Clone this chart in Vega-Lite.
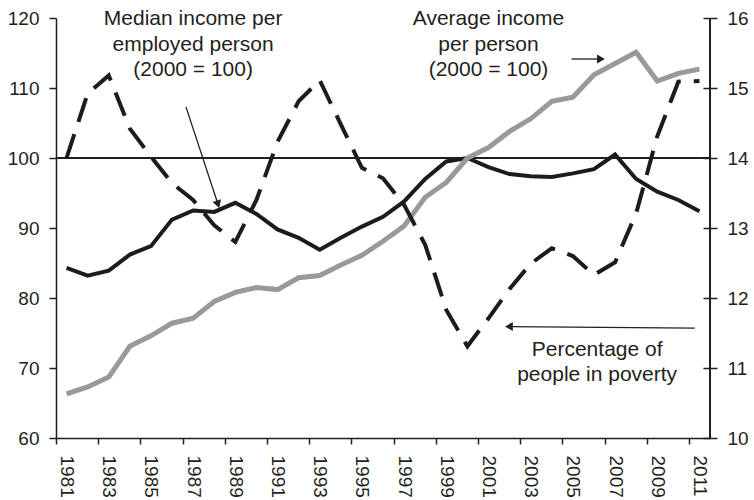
{
  "$schema": "https://vega.github.io/schema/vega-lite/v6.json",
  "width": 654,
  "height": 420,
  "autosize": {"type": "none"},
  "padding": {"left": 56, "top": 18, "right": 44, "bottom": 62},
  "background": "white",
  "config": {
    "view": {"stroke": null},
    "font": "Liberation Sans",
    "axis": {
      "labelFont": "Liberation Sans",
      "labelFontSize": 19,
      "labelColor": "#231f20",
      "domainColor": "#231f20",
      "tickColor": "#231f20",
      "domainWidth": 1.5,
      "tickWidth": 1.5,
      "grid": false
    }
  },
  "datasets": {
    "series": [
      {"year": 1981, "median": 84.3, "average": 66.3, "poverty": 14.0},
      {"year": 1982, "median": 83.2, "average": 67.3, "poverty": 14.92},
      {"year": 1983, "median": 83.9, "average": 68.7, "poverty": 15.18},
      {"year": 1984, "median": 86.2, "average": 73.1, "poverty": 14.42},
      {"year": 1985, "median": 87.4, "average": 74.6, "poverty": 14.02},
      {"year": 1986, "median": 91.2, "average": 76.4, "poverty": 13.64},
      {"year": 1987, "median": 92.5, "average": 77.1, "poverty": 13.4},
      {"year": 1988, "median": 92.3, "average": 79.5, "poverty": 13.04},
      {"year": 1989, "median": 93.6, "average": 80.8, "poverty": 12.8},
      {"year": 1990, "median": 92.0, "average": 81.5, "poverty": 13.4},
      {"year": 1991, "median": 89.8, "average": 81.2, "poverty": 14.23},
      {"year": 1992, "median": 88.6, "average": 82.9, "poverty": 14.81},
      {"year": 1993, "median": 86.9, "average": 83.2, "poverty": 15.11},
      {"year": 1994, "median": 88.6, "average": 84.7, "poverty": 14.48},
      {"year": 1995, "median": 90.2, "average": 86.1, "poverty": 13.86},
      {"year": 1996, "median": 91.6, "average": 88.1, "poverty": 13.71},
      {"year": 1997, "median": 93.8, "average": 90.3, "poverty": 13.33},
      {"year": 1998, "median": 97.0, "average": 94.4, "poverty": 12.76},
      {"year": 1999, "median": 99.5, "average": 96.5, "poverty": 11.83},
      {"year": 2000, "median": 100.0, "average": 100.0, "poverty": 11.31},
      {"year": 2001, "median": 98.7, "average": 101.5, "poverty": 11.71},
      {"year": 2002, "median": 97.7, "average": 103.8, "poverty": 12.13},
      {"year": 2003, "median": 97.4, "average": 105.6, "poverty": 12.49},
      {"year": 2004, "median": 97.3, "average": 108.1, "poverty": 12.71},
      {"year": 2005, "median": 97.8, "average": 108.7, "poverty": 12.6},
      {"year": 2006, "median": 98.4, "average": 111.9, "poverty": 12.33},
      {"year": 2007, "median": 100.5, "average": 113.5, "poverty": 12.51},
      {"year": 2008, "median": 97.0, "average": 115.1, "poverty": 13.21},
      {"year": 2009, "median": 95.2, "average": 111.0, "poverty": 14.31},
      {"year": 2010, "median": 94.0, "average": 112.1, "poverty": 15.09},
      {"year": 2011, "median": 92.4, "average": 112.7, "poverty": 15.1}
    ],
    "notes": [
      {"label": "Median income per\nemployed person\n(2000 = 100)", "year": 1987, "value": 118.95},
      {"label": "Average income\nper person\n(2000 = 100)", "year": 2001, "value": 118.95},
      {"label": "Percentage of\npeople in poverty", "year": 2006.15, "value": 71.75}
    ],
    "arrows": [
      {"id": "median", "x1": 1986.66, "y1": 107.3, "x2": 1988.18, "y2": 93.4},
      {"id": "average", "x1": 2004.94, "y1": 114.14, "x2": 2006.33, "y2": 114.14},
      {"id": "poverty", "x1": 2010.78, "y1": 75.71, "x2": 2001.97, "y2": 75.92}
    ]
  },
  "resolve": {"scale": {"y": "independent"}, "axis": {"y": "independent"}},
  "layer": [
    {
      "encoding": {
        "x": {"type": "quantitative", "scale": {"domain": [1980.5, 2011.5], "nice": false, "zero": false},
          "axis": {
            "orient": "bottom",
            "title": null,
            "values": [1980.5, 1981.5, 1982.5, 1983.5, 1984.5, 1985.5, 1986.5, 1987.5, 1988.5, 1989.5, 1990.5, 1991.5, 1992.5, 1993.5, 1994.5, 1995.5, 1996.5, 1997.5, 1998.5, 1999.5, 2000.5, 2001.5, 2002.5, 2003.5, 2004.5, 2005.5, 2006.5, 2007.5, 2008.5, 2009.5, 2010.5, 2011.5],
            "labelExpr": "datum.value < 2011 && (datum.value + 0.5) % 2 == 1 ? format(datum.value + 0.5, 'd') : ''",
            "labelOffset": 10.55,
            "labelAngle": 90,
            "labelAlign": "left",
            "labelBaseline": "middle",
            "labelPadding": 11,
            "tickSize": 6,
            "labelFlush": false,
            "labelOverlap": false,
            "labelBound": false
          }},
        "y": {"type": "quantitative", "scale": {"domain": [60, 120], "nice": false, "zero": false},
          "axis": {"orient": "left", "title": null, "values": [60, 70, 80, 90, 100, 110, 120], "tickSize": 7, "labelPadding": 10}}
      },
      "layer": [
        {
          "data": {"name": "series"},
          "mark": {"type": "rule", "color": "#231f20", "strokeWidth": 1.2},
          "encoding": {
            "x": null,
            "y": {"datum": 100, "type": "quantitative"}
          }
        },
        {
          "data": {"name": "series"},
          "mark": {"type": "line", "color": "#1c1c1c", "strokeWidth": 4, "strokeJoin": "miter"},
          "encoding": {
            "x": {"field": "year", "type": "quantitative"},
            "y": {"field": "median", "type": "quantitative"}
          }
        },
        {
          "data": {"name": "series"},
          "mark": {"type": "line", "color": "#999999", "strokeWidth": 5, "strokeJoin": "miter"},
          "encoding": {
            "x": {"field": "year", "type": "quantitative"},
            "y": {"field": "average", "type": "quantitative"}
          }
        },
        {
          "data": {"name": "series"},
          "mark": {"type": "rule", "color": "#231f20", "strokeWidth": 1.5},
          "encoding": {
            "x": {"datum": 2011.5, "type": "quantitative"},
            "y": null
          }
        },
        {
          "data": {"name": "notes"},
          "mark": {"type": "text", "font": "Liberation Sans", "fontSize": 21, "color": "#231f20", "align": "center", "baseline": "alphabetic", "lineBreak": "\n", "lineHeight": 25.3},
          "encoding": {
            "x": {"field": "year", "type": "quantitative"},
            "y": {"field": "value", "type": "quantitative"},
            "text": {"field": "label"}
          }
        },
        {
          "data": {"name": "arrows"},
          "mark": {"type": "rule", "color": "#231f20", "strokeWidth": 1.3},
          "encoding": {
            "x": {"field": "x1", "type": "quantitative"},
            "x2": {"field": "x2"},
            "y": {"field": "y1", "type": "quantitative"},
            "y2": {"field": "y2"}
          }
        },
        {
          "data": {"name": "arrows"},
          "transform": [{"filter": "datum.id == 'median'"}],
          "mark": {"type": "point", "shape": "triangle-right", "filled": true, "color": "#231f20", "size": 80, "angle": 72, "opacity": 1},
          "encoding": {
            "x": {"field": "x2", "type": "quantitative"},
            "y": {"field": "y2", "type": "quantitative"}
          }
        },
        {
          "data": {"name": "arrows"},
          "transform": [{"filter": "datum.id == 'average'"}],
          "mark": {"type": "point", "shape": "triangle-right", "filled": true, "color": "#231f20", "size": 80, "opacity": 1},
          "encoding": {
            "x": {"field": "x2", "type": "quantitative"},
            "y": {"field": "y2", "type": "quantitative"}
          }
        },
        {
          "data": {"name": "arrows"},
          "transform": [{"filter": "datum.id == 'poverty'"}],
          "mark": {"type": "point", "shape": "triangle-left", "filled": true, "color": "#231f20", "size": 80, "opacity": 1},
          "encoding": {
            "x": {"field": "x2", "type": "quantitative"},
            "y": {"field": "y2", "type": "quantitative"}
          }
        }
      ]
    },
    {
      "data": {"name": "series"},
      "mark": {"type": "line", "color": "#1c1c1c", "strokeWidth": 4, "strokeDash": [25, 13], "strokeJoin": "miter"},
      "encoding": {
        "x": {"field": "year", "type": "quantitative"},
        "y": {"field": "poverty", "type": "quantitative", "scale": {"domain": [10, 16], "nice": false, "zero": false},
          "axis": {"orient": "right", "title": null, "values": [10, 11, 12, 13, 14, 15, 16], "offset": -7, "domain": false, "tickSize": 14, "labelPadding": 10}}
      }
    }
  ]
}
